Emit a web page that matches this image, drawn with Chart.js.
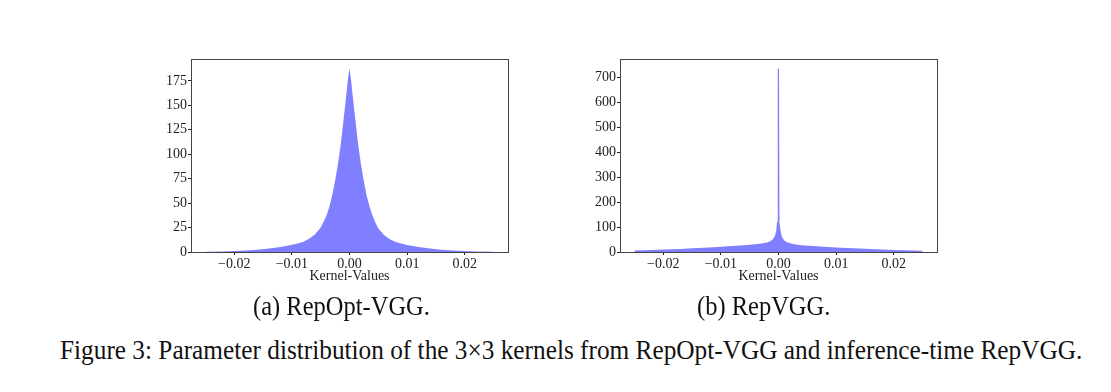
<!DOCTYPE html>
<html>
<head>
<meta charset="utf-8">
<script src="https://cdn.jsdelivr.net/npm/chart.js@4.4.1/dist/chart.umd.min.js"></script>
<style>
  html, body { margin: 0; padding: 0; background: #fff; }
  body { width: 1111px; height: 392px; position: relative; overflow: hidden; font-family: "Liberation Serif", serif; color: #111; }
  .plot { position: absolute; top: 50px; width: 366px; height: 242px; }
  .plot canvas { display: block; }
  .sub { position: absolute; top: 293px; font-size: 24.5px; line-height: 1; white-space: nowrap; transform: scaleY(1.08); transform-origin: 0 0; }
  .cap { position: absolute; top: 336px; left: 60px; font-size: 25.3px; line-height: 1; white-space: nowrap; transform: scaleY(1.08); transform-origin: 0 0; }
</style>
</head>
<body>

<div class="plot" id="wrapA" style="left:145px;"><canvas id="chartA" width="366" height="242"></canvas></div>
<div class="plot" id="wrapB" style="left:574px;"><canvas id="chartB" width="366" height="242"></canvas></div>

<div class="sub" style="left:253px;">(a) RepOpt-VGG.</div>
<div class="sub" style="left:697px;">(b) RepVGG.</div>
<div class="cap">Figure 3: Parameter distribution of the 3×3 kernels from RepOpt-VGG and inference-time RepVGG.</div>

<script>
// histogram (a) RepOpt-VGG : kernel value -> count
const kernelA = [-0.025, -0.022, -0.020, -0.018, -0.016, -0.014, -0.012, -0.010, -0.009, -0.008, -0.007, -0.006, -0.005, -0.0045, -0.004, -0.0035, -0.003, -0.0025, -0.002, -0.0015, -0.001, -0.00075, -0.0005, -0.00025, 0,
                 0.00025, 0.0005, 0.00075, 0.001, 0.0015, 0.002, 0.0025, 0.003, 0.0035, 0.004, 0.0045, 0.005, 0.006, 0.007, 0.008, 0.009, 0.010, 0.012, 0.014, 0.016, 0.018, 0.020, 0.022, 0.025];
const countA  = [0.3, 0.6, 1.0, 1.6, 2.4, 3.6, 5.2, 7.4, 8.8, 10.5, 13.5, 18, 25, 31, 37, 46, 58, 73, 90, 111, 137, 150, 164, 178, 188,
                 177, 163, 149, 136, 110, 89, 72, 57, 46, 37, 30, 24, 17.5, 13, 10.2, 8.6, 7.2, 5.0, 3.5, 2.3, 1.5, 0.9, 0.6, 0.3];

// histogram (b) RepVGG
const kernelB = [-0.025, -0.022, -0.020, -0.017, -0.015, -0.012, -0.010, -0.008, -0.006, -0.004, -0.003, -0.002, -0.0015, -0.001, -0.0006, -0.0004, -0.00025, -0.00018, -0.00014, -0.00012, -0.00009, 0.00009,
                 0.00012, 0.00014, 0.00018, 0.00025, 0.0004, 0.0006, 0.001, 0.0015, 0.002, 0.003, 0.004, 0.006, 0.008, 0.010, 0.012, 0.015, 0.017, 0.020, 0.022, 0.025];
const countB  = [6, 8, 10, 12.5, 15, 18, 21, 24, 27, 31, 34, 38, 42, 50, 65, 85, 120, 160, 230, 420, 735, 735,
                 410, 220, 155, 115, 80, 60, 46, 39, 35, 30, 27, 24, 21, 18.5, 16, 13, 11, 8.5, 7, 5];

const xTicks  = [-0.02, -0.01, 0, 0.01, 0.02];
const yTicksA = [0, 25, 50, 75, 100, 125, 150, 175];
const yTicksB = [0, 100, 200, 300, 400, 500, 600, 700];

const FONT = "Liberation Serif";
const INK = "#222";

// matplotlib style box around the plot area
const frame = {
  id: "frame",
  afterDraw(chart) {
    const a = chart.chartArea, c = chart.ctx;
    c.save();
    c.strokeStyle = "#444";
    c.lineWidth = 1;
    c.strokeRect(Math.round(a.left) + 0.5, Math.round(a.top) + 0.5, Math.round(a.right - a.left), Math.round(a.bottom - a.top));
    c.restore();
  }
};

function fmtX(v) {
  const s = Number(v).toFixed(2);
  return s.replace("-", "\u2212");
}

function makeChart(id, xs, ys, yMax, yTicks) {
  const pts = xs.map((x, i) => ({ x, y: ys[i] }));
  return new Chart(document.getElementById(id), {
    type: "line",
    data: {
      datasets: [{
        data: pts,
        fill: "origin",
        backgroundColor: "rgba(0,0,255,0.5)",
        borderWidth: 0,
        borderColor: "rgba(0,0,0,0)",
        pointRadius: 0,
        tension: 0
      }]
    },
    options: {
      responsive: false,
      animation: false,
      layout: { padding: { top: 9, right: 3, left: 0, bottom: 0 } },
      plugins: { legend: { display: false }, tooltip: { enabled: false } },
      scales: {
        x: {
          type: "linear",
          min: -0.0275,
          max: 0.0275,
          afterBuildTicks: s => { s.ticks = xTicks.map(v => ({ value: v })); },
          afterFit: s => { s.height = 40; },
          grid: { display: true, drawOnChartArea: false, drawTicks: true, tickLength: 3, color: INK },
          border: { display: false },
          ticks: { color: INK, font: { family: FONT, size: 14 }, padding: 1, maxRotation: 0, callback: v => fmtX(v) },
          title: { display: true, text: "Kernel-Values", color: INK, font: { family: FONT, size: 14 }, padding: { top: 0, bottom: 7 } }
        },
        y: {
          min: 0,
          max: yMax,
          afterBuildTicks: s => { s.ticks = yTicks.map(v => ({ value: v })); },
          afterFit: s => { s.width = 46; },
          grid: { display: true, drawOnChartArea: false, drawTicks: true, tickLength: 3, color: INK },
          border: { display: false },
          ticks: { color: INK, font: { family: FONT, size: 14 }, padding: 1 }
        }
      }
    },
    plugins: [frame]
  });
}

makeChart("chartA", kernelA, countA, 197, yTicksA);
makeChart("chartB", kernelB, countB, 773, yTicksB);
</script>
</body>
</html>
